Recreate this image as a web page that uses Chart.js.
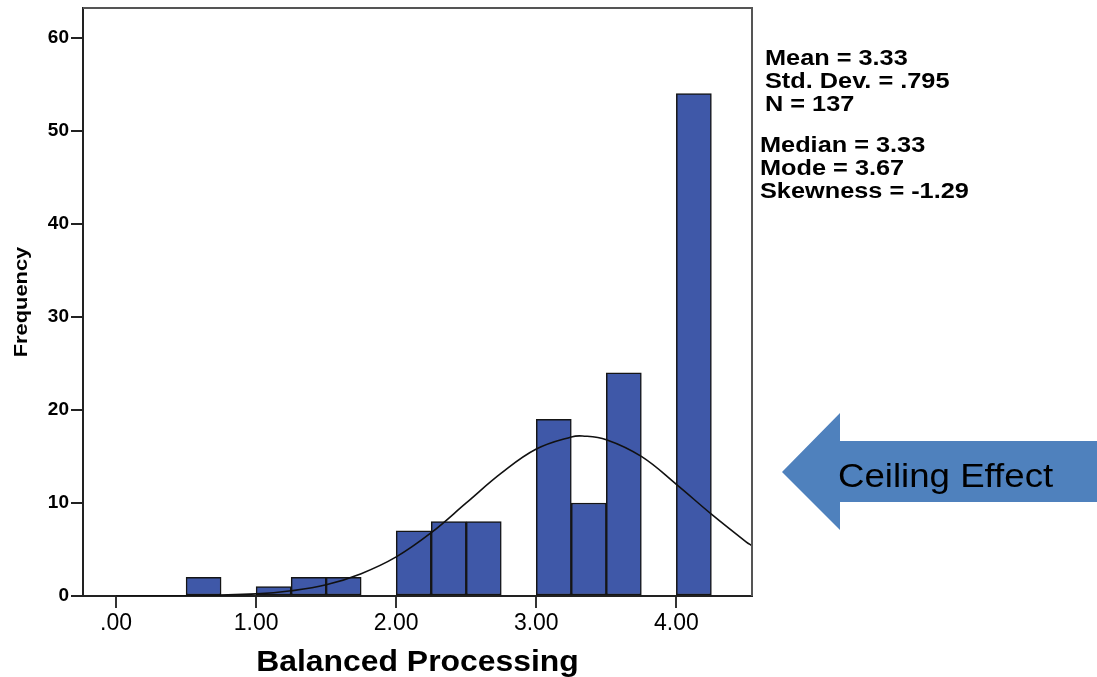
<!DOCTYPE html>
<html>
<head>
<meta charset="utf-8">
<style>
html,body{margin:0;padding:0;background:#fff;}
#wrap{width:1097px;height:677px;position:relative;}
</style>
<script src="https://cdn.jsdelivr.net/npm/chart.js@4/dist/chart.umd.min.js"></script>
</head>
<body>
<div id="wrap"><canvas id="c" width="1097" height="677"></canvas></div>
<script>
// Histogram bins (centers) and frequencies
const binCenters = [0.625, 1.125, 1.375, 1.625, 2.125, 2.375, 2.625, 3.125, 3.375, 3.625, 4.125];
const frequencies = [2, 1, 2, 2, 7, 8, 8, 19, 10, 24, 54];
// Normal curve
const curveX = [0, 0.5, 1.0, 1.25, 1.5, 1.75, 2.0, 2.25, 2.5, 2.75, 3.0, 3.25, 3.33, 3.5, 3.75, 4.0, 4.25, 4.5, 4.54];
const curveY = [0, 0.03, 0.23, 0.56, 1.2, 2.4, 4.2, 6.8, 10.0, 13.2, 15.8, 17.1, 17.2, 16.8, 15.0, 12.0, 8.8, 5.8, 5.4];
const xTickValues = [0, 1, 2, 3, 4];
const xTickLabels = ['.00', '1.00', '2.00', '3.00', '4.00'];
const yTickValues = [0, 10, 20, 30, 40, 50, 60];
const statsBlock1 = ['Mean = 3.33', 'Std. Dev. = .795', 'N = 137'];
const statsBlock2 = ['Median = 3.33', 'Mode = 3.67', 'Skewness = -1.29'];
const xTitle = 'Balanced Processing';
const yTitle = 'Frequency';
const arrowText = 'Ceiling Effect';

const FONT = '"Liberation Sans", Arial, Helvetica, sans-serif';

function stretchedText(ctx, text, x, y, k) {
  ctx.save();
  ctx.translate(x, y);
  ctx.scale(k, 1);
  ctx.fillText(text, 0, 0);
  ctx.restore();
}

const overlay = {
  id: 'overlay',
  afterDraw(chart) {
    const ctx = chart.ctx;
    const a = chart.chartArea;
    ctx.save();
    // top and right frame
    ctx.strokeStyle = '#555';
    ctx.lineWidth = 2;
    ctx.beginPath();
    ctx.moveTo(a.left, a.top);
    ctx.lineTo(a.right, a.top);
    ctx.lineTo(a.right, a.bottom);
    ctx.stroke();
    ctx.fillStyle = '#000';
    ctx.textBaseline = 'alphabetic';
    // x title
    ctx.font = 'bold 29px ' + FONT;
    ctx.textAlign = 'center';
    stretchedText(ctx, xTitle, (a.left + a.right) / 2, 671, 1.1);
    // y title
    ctx.save();
    ctx.translate(27, (a.top + a.bottom) / 2);
    ctx.rotate(-Math.PI / 2);
    ctx.scale(1.15, 1);
    ctx.font = 'bold 19px ' + FONT;
    ctx.fillText(yTitle, 0, 0);
    ctx.restore();
    // stats text
    ctx.textAlign = 'left';
    ctx.font = 'bold 22px ' + FONT;
    statsBlock1.forEach((t, i) => stretchedText(ctx, t, 765, 65 + i * 23, 1.15));
    statsBlock2.forEach((t, i) => stretchedText(ctx, t, 760, 152 + i * 23, 1.15));
    // arrow
    ctx.fillStyle = '#4F81BD';
    ctx.beginPath();
    ctx.moveTo(782, 472);
    ctx.lineTo(840, 413);
    ctx.lineTo(840, 441);
    ctx.lineTo(1097, 441);
    ctx.lineTo(1097, 502);
    ctx.lineTo(840, 502);
    ctx.lineTo(840, 530);
    ctx.closePath();
    ctx.fill();
    ctx.fillStyle = '#000';
    ctx.font = '33px ' + FONT;
    stretchedText(ctx, arrowText, 838, 487, 1.11);
    ctx.restore();
  }
};

new Chart(document.getElementById('c'), {
  data: {
    datasets: [
      {
        type: 'line',
        data: curveX.map((x, i) => ({x: x, y: curveY[i]})),
        borderColor: '#111',
        borderWidth: 1.6,
        pointRadius: 0,
        tension: 0.4,
        fill: false,
        order: 0
      },
      {
        type: 'bar',
        data: binCenters.map((x, i) => ({x: x, y: frequencies[i]})),
        backgroundColor: '#3F58A8',
        borderColor: '#151515',
        borderWidth: 1.5,
        borderSkipped: false,
        barPercentage: 1,
        categoryPercentage: 1,
        grouped: false,
        order: 1
      }
    ]
  },
  options: {
    responsive: false,
    animation: false,
    devicePixelRatio: 1,
    layout: {padding: {left: 0, top: 8, right: 345, bottom: 0}},
    plugins: {legend: {display: false}, tooltip: {enabled: false}},
    scales: {
      x: {
        type: 'linear',
        offset: false,
        min: -0.236,
        max: 4.54,
        afterBuildTicks(scale) { scale.ticks = xTickValues.map(v => ({value: v})); },
        afterFit(scale) { scale.height = 81; scale.paddingLeft = 0; scale.paddingRight = 0; },
        ticks: {
          autoSkip: false,
          maxRotation: 0,
          color: '#000',
          padding: 2,
          font: {family: FONT, size: 23},
          callback(v) { const i = xTickValues.indexOf(v); return i >= 0 ? xTickLabels[i] : ''; }
        },
        grid: {offset: false, drawOnChartArea: false, drawTicks: true, tickLength: 12, color: '#333', lineWidth: 2},
        border: {display: true, color: '#222', width: 2}
      },
      y: {
        type: 'linear',
        min: 0,
        max: 63.2,
        afterBuildTicks(scale) { scale.ticks = yTickValues.map(v => ({value: v})); },
        afterFit(scale) { scale.width = 83; scale.paddingTop = 0; scale.paddingBottom = 0; },
        ticks: {
          color: '#000',
          padding: 2,
          font: {family: FONT, size: 19, weight: 'bold'}
        },
        grid: {drawOnChartArea: false, drawTicks: true, tickLength: 12, color: '#222', lineWidth: 2},
        border: {display: true, color: '#222', width: 2}
      }
    }
  },
  plugins: [overlay]
});
</script>
</body>
</html>
